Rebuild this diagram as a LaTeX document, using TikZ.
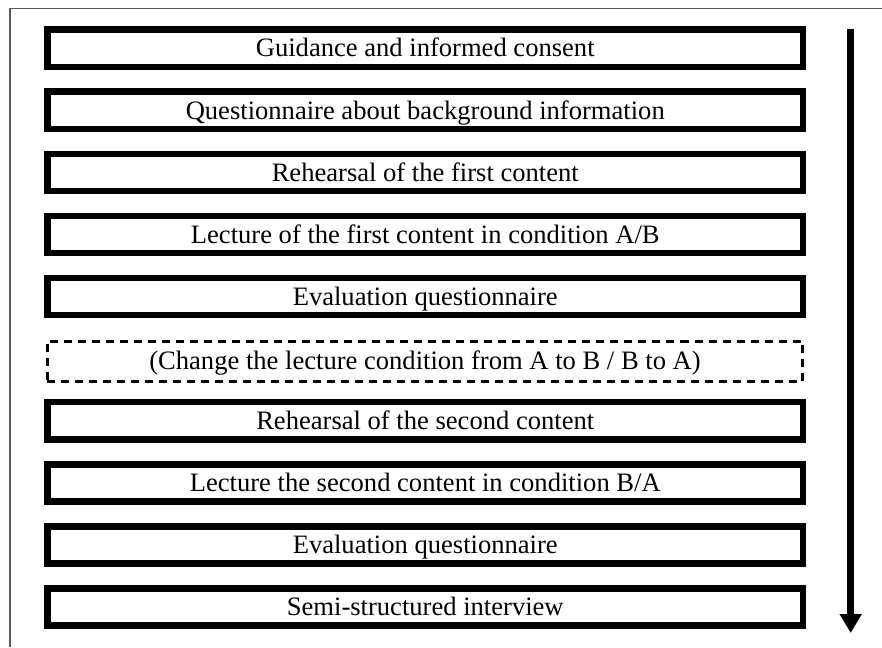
\documentclass[tikz,border=0pt]{standalone}
\usepackage{fontspec}
\setmainfont{Liberation Serif}
\usetikzlibrary{positioning,arrows.meta}

\begin{document}
\begin{tikzpicture}[x=0.025cm,y=-0.025cm,
        stepbox/.style={rectangle,draw,line width=0.1625cm,minimum width=18.89cm,minimum height=0.93cm,
            inner sep=0pt,text height=12.5pt,text depth=0pt,font=\fontsize{18.9}{22}\selectfont},
        changebox/.style={stepbox,line width=0.075cm,dash pattern=on 0.2cm off 0.15cm,minimum height=1cm}]
        \useasboundingbox (0,0) rectangle (882,647);

        % frame
        \draw[black!65,line width=0.04cm] (10,647) -- (10,8.5) -- (882,8.5);

        \node[stepbox] (guide) at (425.25,48.2) {Guidance and informed consent};
        \node[stepbox] (quest) at (425.25,110.3) {Questionnaire about background information};
        \node[stepbox] (reh1) at (425.25,172.4) {Rehearsal of the first content};
        \node[stepbox] (lec1) at (425.25,234.5) {Lecture of the first content in condition A/B};
        \node[stepbox] (eval1) at (425.25,296.6) {Evaluation questionnaire};
        \node[changebox] (change) at (425,361) {(Change the lecture condition from A to B / B to A)};
        \node[stepbox] (reh2) at (425.25,420.8) {Rehearsal of the second content};
        \node[stepbox] (lec2) at (425.25,482.9) {Lecture the second content in condition B/A};
        \node[stepbox] (eval2) at (425.25,545.0) {Evaluation questionnaire};
        \node[stepbox] (inter) at (425.25,607.1) {Semi-structured interview};

        \coordinate (start) at (850.7,29);
        \coordinate (finish) at (850.7,633);
        \draw[line width=0.1625cm,-{Triangle[width=0.525cm,length=0.475cm]}] (start) -- (finish);

    \end{tikzpicture}
\end{document}
